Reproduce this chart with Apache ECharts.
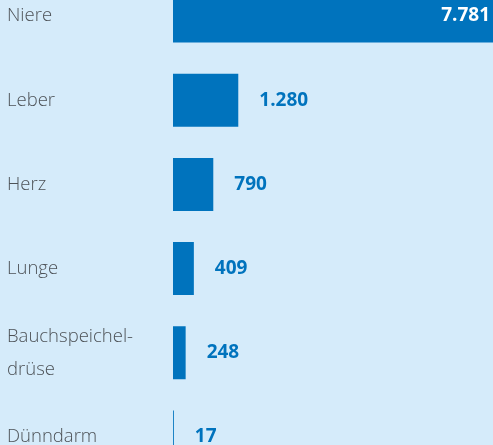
<!DOCTYPE html>
<html>
<head>
<meta charset="utf-8">
<script src="https://cdn.jsdelivr.net/npm/echarts@6/dist/echarts.min.js"></script>
<style>
    html, body { margin: 0; padding: 0; background: #d5ebfa; overflow: hidden; }
    #wrap { position: relative; width: 493px; height: 445px; overflow: hidden; }
    /* Diagramm größer als das Fenster: oben und unten angeschnitten */
    #chart { position: absolute; left: 0; top: -26px; width: 493px; height: 505px; }
</style>
</head>
<body>
<div id="wrap"><div id="chart"></div></div>
<script>
// Organe und Werte (von oben nach unten)
var organs = ['Niere', 'Leber', 'Herz', 'Lunge', 'Bauchspeichel-\ndrüse', 'Dünndarm'];
var counts = [7781, 1280, 790, 409, 248, 17];

var blue = '#0073bd';

function formatNumber(v) {
    return String(v).replace(/\B(?=(\d{3})+(?!\d))/g, '.');
}

var barData = counts.map(function (v, i) {
    if (i === 0) {
        // der erste Balken läuft aus dem Bild, Wert steht innen
        return {
            value: v,
            label: {
                position: 'insideRight',
                distance: 3,
                color: '#ffffff'
            }
        };
    }
    return v;
});

var option = {
    backgroundColor: '#d5ebfa',
    animation: false,
    grid: {
        left: 173,
        right: 0,
        top: 0,
        bottom: 0
    },
    xAxis: {
        type: 'value',
        min: 0,
        max: 6275,
        show: false
    },
    yAxis: {
        type: 'category',
        inverse: true,
        data: organs,
        axisLine: { show: false },
        axisTick: { show: false },
        axisLabel: {
            align: 'left',
            margin: 166,
            color: '#4d5257',
            fontFamily: 'Open Sans',
            fontWeight: 300,
            fontSize: 18.5,
            lineHeight: 33
        }
    },
    series: [
        {
            type: 'bar',
            data: barData,
            barWidth: 53,
            itemStyle: { color: blue },
            label: {
                show: true,
                position: 'right',
                distance: 21,
                color: blue,
                fontFamily: 'Open Sans',
                fontWeight: 'bold',
                fontSize: 19,
                formatter: function (p) {
                    return formatNumber(p.value);
                }
            }
        }
    ]
};

echarts.init(document.getElementById('chart')).setOption(option);
</script>
</body>
</html>
